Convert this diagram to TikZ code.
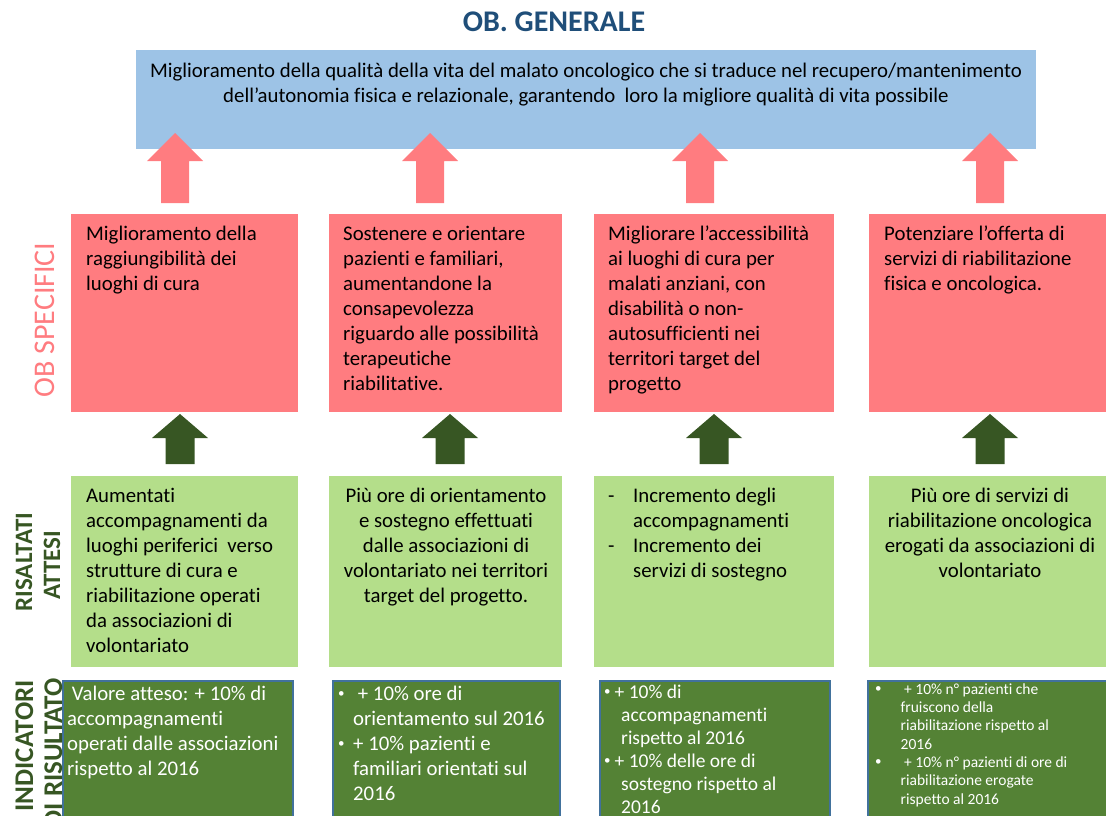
\documentclass[tikz,border=0pt]{standalone}
\usepackage{fontspec}
\setmainfont{Carlito}[Ligatures=NoCommon]
\definecolor{pinkbox}{HTML}{FF7C80}
\definecolor{bluebox}{HTML}{9DC3E6}
\definecolor{lgreen}{HTML}{B4DE8A}
\definecolor{dgreen}{HTML}{548235}
\definecolor{dborder}{HTML}{41719C}
\definecolor{arrgreen}{HTML}{375623}
\definecolor{titleblue}{HTML}{1F4E79}
% color, center x, tip y, head base y, bottom y, head half width, shaft half width
\newcommand\blockup[7]{%
  \fill[#1] (#2,#3) -- (#2+#6,#4) -- (#2+#7,#4) -- (#2+#7,#5) -- (#2-#7,#5) -- (#2-#7,#4) -- (#2-#6,#4) -- cycle;}
% small bullet in a box of given width
\newcommand\smallbul[1]{\makebox[#1][l]{\hspace{1pt}\raisebox{0.25ex}{\fontsize{13}{13}\selectfont •}}}
\tikzset{
  boxbase/.style={anchor=north west, inner sep=0pt, outer sep=0pt},
  genbox/.style={boxbase, fill=bluebox, minimum width=900pt, minimum height=99pt},
  specbox/.style={boxbase, fill=pinkbox, minimum width=#1, minimum height=198pt},
  resbox/.style={boxbase, fill=lgreen, minimum width=#1, minimum height=191pt},
  indbox/.style={boxbase, fill=dgreen, draw=dborder, line width=1.3pt, minimum width=#1, minimum height=170pt},
  bodytext/.style={inner sep=0pt, font=\fontsize{20.8}{25}\selectfont, align=left, anchor=north west},
  ctext/.style={inner sep=0pt, font=\fontsize{20.8}{25}\selectfont, align=center, anchor=north},
  indtext/.style={bodytext, text=white},
  sidelab/.style={inner sep=0pt, rotate=90, font=\fontsize{25}{30}\selectfont\bfseries, text=arrgreen},
}
\begin{document}
\begin{tikzpicture}[x=1pt,y=-1pt]
\useasboundingbox (0,0) rectangle (1106,816);
\clip (0,0) rectangle (1106,816);

% title
\node[inner sep=0pt, anchor=base, font=\fontsize{30}{34}\selectfont\bfseries, text=titleblue] (title) at (554,32) {OB. GENERALE};

% general objective
\node[genbox] (gen) at (136,50) {};
\node[ctext] (gent) at (586,59.5) {\strut Miglioramento della qualità della vita del malato oncologico che si traduce nel recupero/mantenimento\\dell’autonomia fisica e relazionale, garantendo~ loro la migliore qualità di vita possibile};

% specific objectives
\node[specbox=227pt] (s1) at (71,214) {};
\node[specbox=233pt] (s2) at (329,214) {};
\node[specbox=240pt] (s3) at (594,214) {};
\node[specbox=241pt] (s4) at (869,214) {};
\node[bodytext] (s1t) at (86,222.5) {\strut Miglioramento della\\raggiungibilità dei\\luoghi di cura};
\node[bodytext] (s2t) at (343,222.5) {\strut Sostenere e orientare\\pazienti e familiari,\\aumentandone la\\consapevolezza\\riguardo alle possibilità\\terapeutiche\\riabilitative.};
\node[bodytext] (s3t) at (608,222.5) {\strut Migliorare l’accessibilità\\ai luoghi di cura per\\malati anziani, con\\disabilità o non-\\autosufficienti nei\\territori target del\\progetto};
\node[bodytext] (s4t) at (884,222.5) {\strut Potenziare l’offerta di\\servizi di riabilitazione\\fisica e oncologica.};

% pink arrows
\blockup{pinkbox}{175}{133}{161}{203}{28}{14}
\blockup{pinkbox}{430}{133}{161}{203}{28}{14}
\blockup{pinkbox}{700}{133}{161}{203}{28}{14}
\blockup{pinkbox}{990}{133}{161}{203}{28}{14}

% expected results
\node[resbox=227pt] (r1) at (71,476) {};
\node[resbox=233pt] (r2) at (329,476) {};
\node[resbox=240pt] (r3) at (594,476) {};
\node[resbox=241pt] (r4) at (869,476) {};
\node[bodytext] (r1t) at (86,484.5) {\strut Aumentati\\accompagnamenti da\\luoghi periferici~ verso\\strutture di cura e\\riabilitazione operati\\da associazioni di\\volontariato};
\node[ctext] (r2t) at (446,484.5) {\strut Più ore di orientamento\\e sostegno effettuati\\dalle associazioni di\\volontariato nei territori\\target del progetto.};
\node[bodytext] (r3t) at (608,484.5) {\strut\makebox[25pt][l]{-}Incremento degli\\\hspace*{25pt}accompagnamenti\\\makebox[25pt][l]{-}Incremento dei\\\hspace*{25pt}servizi di sostegno};
\node[ctext] (r4t) at (990,484.5) {\strut Più ore di servizi di\\riabilitazione oncologica\\erogati da associazioni di\\volontariato};

% dark green arrows
\blockup{arrgreen}{180}{414}{438}{464}{28}{14.5}
\blockup{arrgreen}{450}{414}{438}{464}{28}{14.5}
\blockup{arrgreen}{714}{414}{438}{464}{28}{14.5}
\blockup{arrgreen}{990}{414}{438}{464}{28}{14.5}

% indicators
\node[indbox=230pt] (i1) at (63,681) {};
\node[indbox=227pt] (i2) at (333,681) {};
\node[indbox=230pt] (i3) at (600,681) {};
\node[indbox=250pt] (i4) at (868,681) {};
\node[indtext] (i1t) at (67,682.5) {\strut\ Valore atteso: + 10\% di\\accompagnamenti\\operati dalle associazioni\\rispetto al 2016};
\node[indtext] (i2t) at (337,682.5) {\strut\smallbul{16pt}\ + 10\% ore di\\\hspace*{16pt}orientamento sul 2016\\\smallbul{16pt}+ 10\% pazienti e\\\hspace*{16pt}familiari orientati sul\\\hspace*{16pt}2016};
\node[indtext, font=\fontsize{19.5}{23}\selectfont] (i3t) at (603,681.9) {\strut\smallbul{11.5pt}+ 10\% di\\\hspace*{18pt}accompagnamenti\\\hspace*{18pt}rispetto al 2016\\\smallbul{11.5pt}+ 10\% delle ore di\\\hspace*{18pt}sostegno rispetto al\\\hspace*{18pt}2016};
\node[indtext, font=\fontsize{15.5}{18.3}\selectfont] (i4t) at (874,681.2) {\strut\smallbul{26.5pt}\ + 10\% n° pazienti che\\\hspace*{26.5pt}fruiscono della\\\hspace*{26.5pt}riabilitazione rispetto al\\\hspace*{26.5pt}2016\\\smallbul{26.5pt}\ + 10\% n° pazienti di ore di\\\hspace*{26.5pt}riabilitazione erogate\\\hspace*{26.5pt}rispetto al 2016};

% side labels
\node[inner sep=0pt, rotate=90, anchor=base, font=\fontsize{30}{36}\selectfont, text=pinkbox] (lab1) at (54,320) {OB SPECIFICI};
\node[sidelab, anchor=base] (lab2a) at (32,562) {RISALTATI};
\node[sidelab, anchor=base] (lab2b) at (60,565) {ATTESI};
\node[sidelab, anchor=base east, font=\fontsize{27}{32}\selectfont\bfseries] (lab3a) at (33,680) {INDICATORI};
\node[sidelab, anchor=base east, font=\fontsize{27}{32}\selectfont\bfseries] (lab3b) at (62,678) {DI RISULTATO};
\end{tikzpicture}
\end{document}
